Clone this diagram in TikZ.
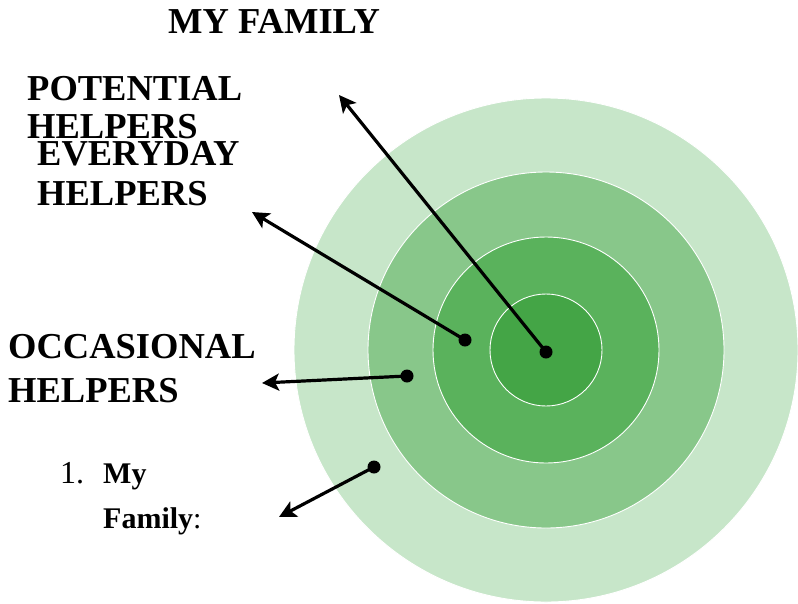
\documentclass[tikz,border=0pt]{standalone}
\usepackage{fontspec}
\setmainfont{Liberation Serif}
\usetikzlibrary{arrows.meta}
\definecolor{ringA}{HTML}{C7E6C9}
\definecolor{ringB}{HTML}{88C78A}
\definecolor{ringC}{HTML}{5AB25C}
\definecolor{ringD}{HTML}{44A546}
\tikzset{
  ring/.style={draw=white, line width=0.9pt},
  dot/.style={circle, fill=black, inner sep=0pt, minimum size=13pt},
  pointer/.style={line width=3.2pt, -{Stealth[length=17pt, width=17pt, inset=4pt]}},
  biglabel/.style={anchor=base west, inner sep=0pt, font=\fontsize{36.5}{38}\selectfont\bfseries},
  smalllabel/.style={anchor=base west, inner sep=0pt, font=\fontsize{30}{31}\selectfont\bfseries},
}
\begin{document}
\begin{tikzpicture}[x=1pt, y=-1pt]
\useasboundingbox (0,0) rectangle (798,603);
\fill[white] (0,0) rectangle (798,603);

% concentric rings
\begin{scope}
\clip (0,0) rectangle (798,603);
\fill[ringA, ring] (546,350) circle (252);
\fill[ringB, ring] (546,350) circle (178);
\fill[ringC, ring] (546,350) circle (113);
\fill[ringD, ring] (546,350) circle (56);
\end{scope}

% labels
\node[biglabel] (title) at (168,33) {MY FAMILY};
\node[biglabel] (potA) at (27,100) {POTENTIAL};
\node[biglabel] (potB) at (27,138) {HELPERS};
\node[biglabel] (everyA) at (37,165) {EVERYDAY};
\node[biglabel] (everyB) at (37,205) {HELPERS};
\node[biglabel] (occA) at (8,358) {OCCASIONAL};
\node[biglabel] (occB) at (8,402) {HELPERS};
\node[anchor=base west, inner sep=0pt, font=\fontsize{32}{34}\selectfont] (num) at (60,483) {1.};
\node[smalllabel] (famA) at (103,483) {My};
\node[smalllabel] (famB) at (103,528) {Family\mdseries:};

% pointer dots and arrow ends
\node[dot] (d1) at (546,352) {};
\node[dot] (d2) at (465,340) {};
\node[dot] (d3) at (407,376) {};
\node[dot] (d4) at (374,467) {};
\coordinate (t1) at (339,95);
\coordinate (t2) at (252,212);
\coordinate (t3) at (262,383);
\coordinate (t4) at (279,517);

\draw[pointer] (d1.center) -- (t1);
\draw[pointer] (d2.center) -- (t2);
\draw[pointer] (d3.center) -- (t3);
\draw[pointer] (d4.center) -- (t4);
\end{tikzpicture}
\end{document}
